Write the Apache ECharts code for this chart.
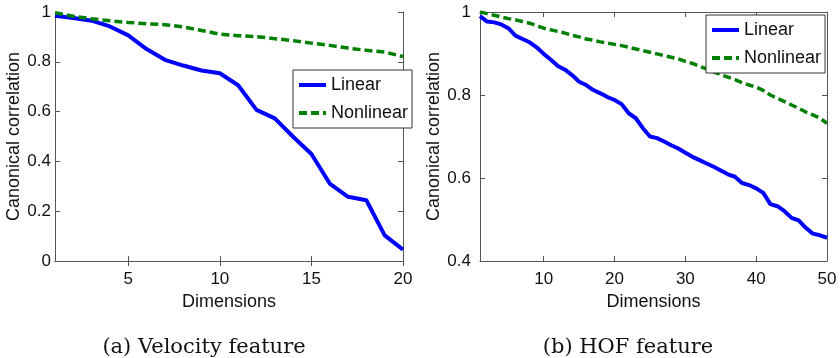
<!DOCTYPE html>
<html>
<head>
<meta charset="utf-8">
<script src="https://cdn.jsdelivr.net/npm/echarts@6/dist/echarts.min.js"></script>
<style>
  html, body { margin: 0; padding: 0; background: #fff; }
  #chart { width: 840px; height: 358px; }
</style>
</head>
<body>
<div id="chart"></div>
<script>
// (a) velocity feature
var velDims = [1, 2, 3, 4, 5, 6, 7, 8, 9, 10, 11, 12, 13, 14, 15, 16, 17, 18, 19, 20];
var velLinear = [0.985, 0.976, 0.965, 0.942, 0.906, 0.851, 0.808, 0.785, 0.765, 0.754,
                 0.706, 0.607, 0.573, 0.499, 0.43, 0.311, 0.258, 0.244, 0.103, 0.046];
var velNonlinear = [0.997, 0.983, 0.973, 0.965, 0.958, 0.953, 0.949, 0.94, 0.926, 0.911,
                    0.905, 0.901, 0.893, 0.885, 0.875, 0.866, 0.855, 0.846, 0.839, 0.821];

// (b) HOF feature
var hofDims = [1, 2, 3, 4, 5, 6, 7, 8, 9, 10, 11, 12, 13, 14, 15, 16, 17, 18, 19, 20,
               21, 22, 23, 24, 25, 26, 27, 28, 29, 30, 31, 32, 33, 34, 35, 36, 37, 38, 39, 40,
               41, 42, 43, 44, 45, 46, 47, 48, 49, 50];
var hofLinear = [0.99, 0.977, 0.975, 0.97, 0.961, 0.943, 0.935, 0.927, 0.915, 0.899,
                 0.885, 0.87, 0.861, 0.848, 0.832, 0.824, 0.812, 0.804, 0.795, 0.788,
                 0.778, 0.756, 0.744, 0.72, 0.70, 0.696, 0.688, 0.679, 0.671, 0.661,
                 0.651, 0.643, 0.635, 0.627, 0.618, 0.609, 0.603, 0.588, 0.583, 0.575,
                 0.564, 0.537, 0.532, 0.52, 0.504, 0.498, 0.48, 0.466, 0.462, 0.456];
var hofNonlinear = [1.0, 0.996, 0.992, 0.988, 0.984, 0.981, 0.977, 0.973, 0.967, 0.961,
                    0.957, 0.953, 0.949, 0.944, 0.94, 0.935, 0.932, 0.928, 0.925, 0.922,
                    0.919, 0.915, 0.911, 0.907, 0.903, 0.899, 0.895, 0.891, 0.887, 0.881,
                    0.876, 0.869, 0.863, 0.856, 0.849, 0.843, 0.837, 0.83, 0.824, 0.819,
                    0.811, 0.80, 0.792, 0.784, 0.776, 0.768, 0.759, 0.752, 0.744, 0.732];

var velTicks = [5, 10, 15, 20];
var hofTicks = [10, 20, 30, 40, 50];
var seriesNames = ['Linear', 'Nonlinear'];
var captions = ['(a) Velocity feature', '(b) HOF feature'];

function pairs(xs, ys) {
  return xs.map(function (x, i) { return [x, ys[i]]; });
}

var axisColor = '#555';
var font = 'Liberation Sans, Arial, sans-serif';

function xAxisFor(grid, min, max, ticks, pos) {
  var main = pos === 'bottom';
  return {
    type: 'value', gridIndex: grid, position: pos, min: min, max: max,
    axisLine: { show: true, lineStyle: { color: axisColor, width: 1 } },
    axisTick: { show: true, inside: true, length: 5, customValues: ticks, lineStyle: { color: axisColor } },
    axisLabel: { show: main, customValues: ticks, margin: 10, fontSize: 17, fontFamily: font, color: '#111' },
    splitLine: { show: false },
    name: main ? 'Dimensions' : '', nameLocation: 'middle', nameGap: 28,
    nameTextStyle: { fontSize: 18, fontFamily: font, color: '#111' }
  };
}

function yAxisFor(grid, min, pos, margin, gap) {
  var main = pos === 'left';
  return {
    type: 'value', gridIndex: grid, position: pos, min: min, max: 1, interval: 0.2,
    axisLine: { show: true, lineStyle: { color: axisColor, width: 1 } },
    axisTick: { show: true, inside: true, length: 5, lineStyle: { color: axisColor } },
    axisLabel: { show: main, margin: margin, fontSize: 17, fontFamily: font, color: '#111' },
    splitLine: { show: false },
    name: main ? 'Canonical correlation' : '', nameLocation: 'middle', nameGap: gap,
    nameTextStyle: { fontSize: 18, fontFamily: font, color: '#111' }
  };
}

function lineSeries(name, xi, yi, data) {
  var linear = name === 'Linear';
  return {
    name: name, type: 'line', xAxisIndex: xi, yAxisIndex: yi,
    data: data, symbol: 'none', smooth: false, silent: true,
    lineStyle: linear
      ? { color: '#0000ff', width: 4 }
      : { color: '#008000', width: 3.5, type: [8, 4] },
    itemStyle: { color: linear ? '#0000ff' : '#008000' }
  };
}

function legendAt(left, top) {
  return {
    data: seriesNames, orient: 'vertical', left: left, top: top,
    itemWidth: 27, itemHeight: 14, itemGap: 10, padding: [6, 4, 6, 4],
    borderColor: '#333', borderWidth: 1, backgroundColor: '#fff',
    selectedMode: false,
    itemStyle: { opacity: 0 },
    lineStyle: { width: 4 },
    textStyle: { fontSize: 18, fontFamily: font, color: '#111' }
  };
}

function caption(text, x) {
  return {
    type: 'text', x: x, y: 348,
    style: { text: text, align: 'center', verticalAlign: 'middle', font: '21px "DejaVu Serif", serif', fill: '#111' }
  };
}

var chart = echarts.init(document.getElementById('chart'));
var option = {
  backgroundColor: '#fff',
  animation: false,
  grid: [
    { left: 55, top: 12, width: 348, height: 249 },
    { left: 480, top: 12, width: 347, height: 249 }
  ],
  xAxis: [
    xAxisFor(0, 1, 20, velTicks, 'bottom'),
    xAxisFor(0, 1, 20, velTicks, 'top'),
    xAxisFor(1, 1, 50, hofTicks, 'bottom'),
    xAxisFor(1, 1, 50, hofTicks, 'top')
  ],
  yAxis: [
    yAxisFor(0, 0, 'left', 4, 26),
    yAxisFor(0, 0, 'right', 4, 26),
    yAxisFor(1, 0.4, 'left', 9, 25),
    yAxisFor(1, 0.4, 'right', 9, 25)
  ],
  legend: [legendAt(293, 70), legendAt(706, 15)],
  series: [
    lineSeries('Linear', 0, 0, pairs(velDims, velLinear)),
    lineSeries('Nonlinear', 0, 0, pairs(velDims, velNonlinear)),
    lineSeries('Linear', 2, 2, pairs(hofDims, hofLinear)),
    lineSeries('Nonlinear', 2, 2, pairs(hofDims, hofNonlinear))
  ],
  graphic: [caption(captions[0], 204), caption(captions[1], 628)]
};
chart.setOption(option);
</script>
</body>
</html>
